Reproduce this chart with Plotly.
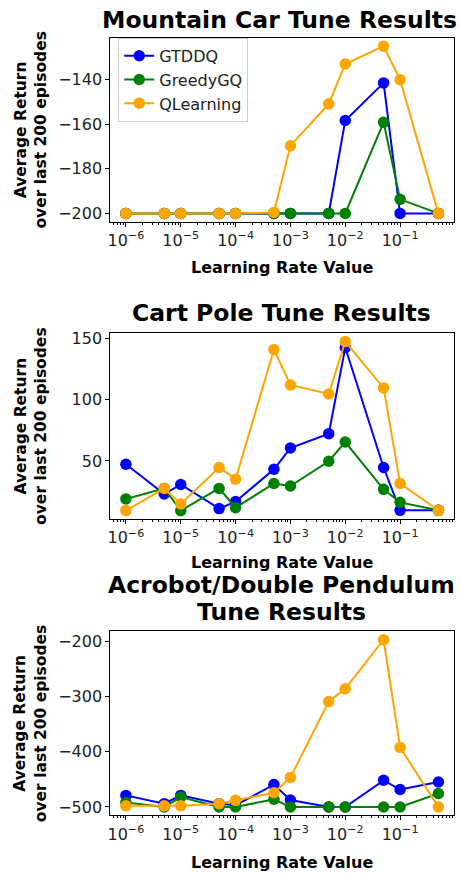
import math
import plotly.graph_objects as go
from plotly.subplots import make_subplots

# ---- data ----
learning_rates = [1e-6, 5e-6, 1e-5, 5e-5, 1e-4, 5e-4, 1e-3, 5e-3, 1e-2, 5e-2, 1e-1, 5e-1]
series_names = ["GTDDQ", "GreedyGQ", "QLearning"]
series_colors = ["blue", "green", "orange"]

mc_gtddq = [-200, -200, -200, -200, -200, -200, -200, -200, -158.3, -141.4, -200, -200]
mc_greedygq = [-200, -200, -200, -200, -200, -200, -200, -200, -200, -159.1, -193.7, -200]
mc_qlearning = [-200, -200, -200, -200, -200, -199.6, -169.6, -150.8, -132.9, -124.9, -140, -200]

cp_gtddq = [47.3, 23, 30.8, 11.1, 16.8, 43.2, 60.5, 72.2, 142.4, 44.6, 9.7, 9.7]
cp_greedygq = [19, 27.6, 9.5, 27.6, 11.9, 31.6, 29.5, 49.7, 65.4, 26.8, 16.2, 9.7]
cp_qlearning = [9.5, 27.6, 14.9, 44.6, 35.1, 140.8, 111.9, 104.6, 147.3, 109.5, 31.6, 9.7]

ac_gtddq = [-479, -494, -479, -494, -497, -459.4, -487.4, -500, -500, -451.6, -468.3, -454.6]
ac_greedygq = [-492, -500, -482, -500, -500, -486, -500, -500, -500, -500, -500, -475.5]
ac_qlearning = [-498, -498, -498, -494, -488, -474.3, -446.3, -308.5, -285.3, -196.4, -392, -500]

panel_titles = ["Mountain Car Tune Results", "Cart Pole Tune Results",
                "Acrobot/Double Pendulum<br>Tune Results"]
x_title = "Learning Rate Value"
y_title = "Average Return<br>over last 200 episodes"
x_tickvals = [1e-6, 1e-5, 1e-4, 1e-3, 1e-2, 1e-1]
x_ticktext = ["10<sup>−6</sup>", "10<sup>−5</sup>", "10<sup>−4</sup>",
              "10<sup>−3</sup>", "10<sup>−2</sup>", "10<sup>−1</sup>"]
y_tickvals = [[-200, -180, -160, -140], [50, 100, 150], [-500, -400, -300, -200]]

panels = [
    [mc_gtddq, mc_greedygq, mc_qlearning],
    [cp_gtddq, cp_greedygq, cp_qlearning],
    [ac_gtddq, ac_greedygq, ac_qlearning],
]

# ---- layout geometry (page pixels; body margin removed via post_script) ----
W, H = 461, 873
x_left, x_right = 108, 454
panel_px = [(34, 219), (331, 518), (631, 816)]
title_px = [16, 311, 584]      # centre of the first title line
title_line_gap = 27
title_cx = [278, 280, 280]
xtitle_px = [265, 562, 863]
ytitle_x = 28

FONT = "DejaVu Sans"

fig = make_subplots(rows=3, cols=1)

for r, data in enumerate(panels):
    for i, vals in enumerate(data):
        fig.add_trace(go.Scatter(
            x=learning_rates, y=vals, mode="lines+markers",
            name=series_names[i],
            line=dict(color=series_colors[i], width=2),
            marker=dict(color=series_colors[i], size=11.5),
            showlegend=(r == 0),
            cliponaxis=False,
        ), row=r + 1, col=1)

def yrange(data):
    lo = min(min(v) for v in data)
    hi = max(max(v) for v in data)
    m = (hi - lo) * 0.05
    return [lo - m, hi + m]

xlo = math.log10(min(learning_rates))
xhi = math.log10(max(learning_rates))
xm = (xhi - xlo) * 0.05
xr = [xlo - xm, xhi + xm]

for r in range(3):
    top, bot = panel_px[r]
    dom_y = [1 - bot / H, 1 - top / H]
    xa = "xaxis" if r == 0 else f"xaxis{r+1}"
    ya = "yaxis" if r == 0 else f"yaxis{r+1}"
    fig.layout[xa].update(
        type="log", domain=[x_left / W, x_right / W], range=xr,
        tickvals=x_tickvals, ticktext=x_ticktext,
        ticks="outside", ticklen=4, tickcolor="black",
        showline=True, linecolor="black", linewidth=1, mirror=True,
        showgrid=False, zeroline=False,
        minor=dict(ticks="outside", ticklen=2, tickcolor="black", showgrid=False, dtick="D1"),
        tickfont=dict(family=FONT, size=16, color="#222"),
    )
    fig.layout[ya].update(
        domain=dom_y, range=yrange(panels[r]), tickvals=y_tickvals[r],
        ticks="outside", ticklen=4, tickcolor="black",
        showline=True, linecolor="black", linewidth=1, mirror=True,
        showgrid=False, zeroline=False,
        tickfont=dict(family=FONT, size=16, color="#222"),
    )
    cx = (x_left + x_right) / 2 / W
    for k, line in enumerate(panel_titles[r].split("<br>")):
        fig.add_annotation(text=f"<b>{line}</b>", xref="paper", yref="paper",
                           x=title_cx[r] / W, y=1 - (title_px[r] + k * title_line_gap) / H,
                           showarrow=False,
                           font=dict(family=FONT, size=23.5, color="black"),
                           xanchor="center", yanchor="middle")
    fig.add_annotation(text=f"<b>{x_title}</b>", xref="paper", yref="paper",
                       x=cx, y=1 - xtitle_px[r] / H, showarrow=False,
                       font=dict(family=FONT, size=16, color="black"),
                       xanchor="center", yanchor="middle")
    fig.add_annotation(text=f"<b>{y_title}</b>", xref="paper", yref="paper",
                       x=ytitle_x / W, y=1 - (top + bot) / 2 / H, showarrow=False,
                       textangle=-90,
                       font=dict(family=FONT, size=15.5, color="black"),
                       xanchor="center", yanchor="middle")

fig.update_layout(
    width=W, height=H, margin=dict(l=0, r=0, t=0, b=0),
    paper_bgcolor="white", plot_bgcolor="white",
    font=dict(family=FONT),
    legend=dict(x=116 / W, y=1 - 34 / H, xanchor="left", yanchor="top",
                bgcolor="rgba(255,255,255,0.8)", bordercolor="#cccccc", borderwidth=1,
                font=dict(family=FONT, size=16, color="#222")),
)

fig.write_html("out.html", config={"displayModeBar": False},
               post_script="document.body.style.margin='0';document.body.style.overflow='hidden';")
